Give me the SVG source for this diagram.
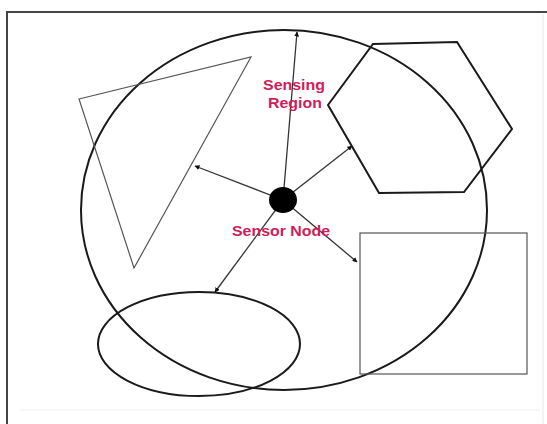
<svg xmlns="http://www.w3.org/2000/svg" width="547" height="424" viewBox="0 0 547 424">
<style>
.shape{fill:none;stroke:#1a1a1a;stroke-width:2}
.thin{fill:none;stroke:#555;stroke-width:1.2}
.conn{stroke:#333;stroke-width:1.3;fill:none}
.lbl{font-family:"Liberation Sans",Arial,sans-serif;font-weight:bold;font-size:15px;fill:#d01c58;text-anchor:middle}
</style>
<defs>
<marker id="ah" viewBox="0 0 10 10" refX="9" refY="5" markerWidth="5" markerHeight="5" orient="auto" markerUnits="userSpaceOnUse">
<path d="M0,0 L10,5 L0,10 z" fill="#111"/>
</marker>
</defs>
<rect width="547" height="424" fill="#fff"/>
<g id="frame">
<line x1="7" y1="12" x2="547" y2="12" stroke="#444" stroke-width="2"/>
<line x1="7" y1="11" x2="7" y2="424" stroke="#444" stroke-width="2"/>
<line x1="543" y1="14" x2="543" y2="424" stroke="#e6e6e6" stroke-width="1"/>
<line x1="20" y1="410" x2="540" y2="410" stroke="#eeeeee" stroke-width="1"/>
</g>
<g id="sensing-region">
<ellipse class="shape" cx="284" cy="210" rx="203" ry="180"/>
</g>
<g id="triangle">
<polygon class="thin" points="79,99 251,57 134,268"/>
</g>
<g id="hexagon">
<polygon class="shape" points="373,44 457,42 512,129 464,192 379,193 328,105"/>
</g>
<g id="rectangle">
<rect class="thin" x="360" y="233" width="167" height="141" stroke="#777"/>
</g>
<g id="ellipse">
<ellipse class="shape" cx="199" cy="344" rx="101" ry="52"/>
</g>
<g id="connectors">
<line class="conn" x1="283" y1="200" x2="297" y2="32" marker-end="url(#ah)"/>
<line class="conn" x1="283" y1="200" x2="195" y2="166" marker-end="url(#ah)"/>
<line class="conn" x1="283" y1="200" x2="352" y2="146" marker-end="url(#ah)"/>
<line class="conn" x1="283" y1="200" x2="357" y2="262" marker-end="url(#ah)"/>
<line class="conn" x1="283" y1="200" x2="215" y2="292" marker-end="url(#ah)"/>
</g>
<g id="sensor-node">
<ellipse cx="283" cy="200" rx="14" ry="13" fill="#000"/>
</g>
<g id="labels">
<text class="lbl" x="294" y="90" textLength="62" lengthAdjust="spacingAndGlyphs">Sensing</text>
<text class="lbl" x="295" y="108" textLength="54" lengthAdjust="spacingAndGlyphs">Region</text>
<text class="lbl" x="281" y="236" textLength="98" lengthAdjust="spacingAndGlyphs">Sensor Node</text>
</g>
</svg>
